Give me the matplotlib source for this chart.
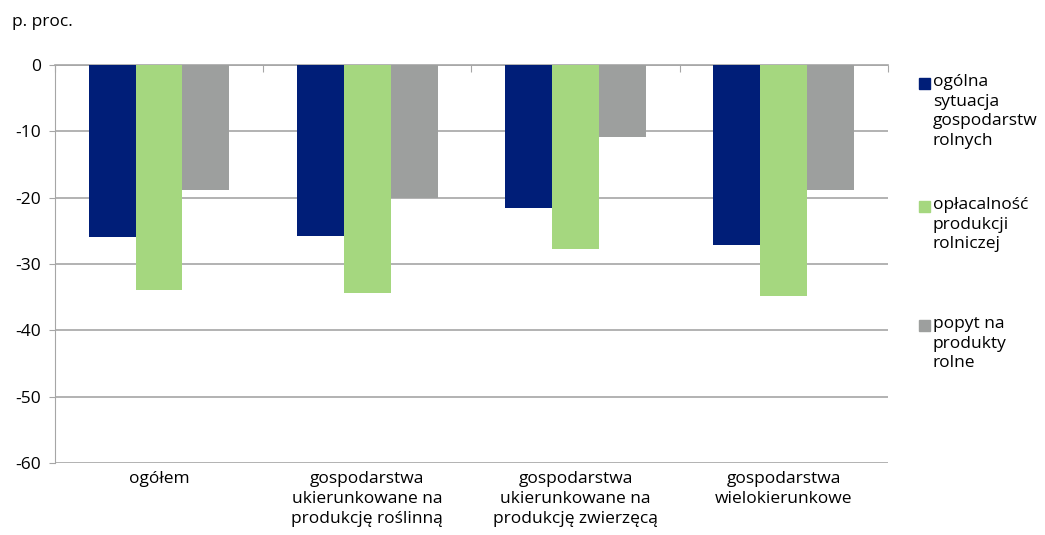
import matplotlib.pyplot as plt
import numpy as np
from matplotlib.patches import Rectangle

plt.rcParams['font.family'] = ['Open Sans', 'DejaVu Sans']
plt.rcParams['axes.unicode_minus'] = False

categories = ["ogółem",
              "gospodarstwa\nukierunkowane na\nprodukcję roślinną",
              "gospodarstwa\nukierunkowane na\nprodukcję zwierzęcą",
              "gospodarstwa\nwielokierunkowe"]
series_names = ["ogólna\nsytuacja\ngospodarstw\nrolnych",
                "opłacalność\nprodukcji\nrolniczej",
                "popyt na\nprodukty\nrolne"]
sytuacja = [-25.9, -25.8, -21.5, -27.1]
oplacalnosc = [-33.9, -34.4, -27.8, -34.9]
popyt = [-18.8, -20.0, -10.9, -18.9]
colors = ["#001E78", "#A5D77F", "#9D9F9E"]

fig = plt.figure(figsize=(10.45, 5.35), dpi=100)
ax = fig.add_axes([0.0526, 0.1346, 0.797, 0.7439])

x = np.arange(len(categories))
w = 0.225
for i, (vals, c) in enumerate(zip([sytuacja, oplacalnosc, popyt], colors)):
    ax.bar(x + (i - 1) * w, vals, width=w, color=c, zorder=3)

ax.set_xlim(-0.5, len(categories) - 0.5)
ax.set_ylim(-60, 0)
ax.set_yticks(range(0, -61, -10))
ax.set_yticklabels([str(v) for v in range(0, -61, -10)])
ax.yaxis.grid(True, color="#A6A6A6", linewidth=1.2, zorder=0)
for s in ["right", "bottom"]:
    ax.spines[s].set_visible(False)
ax.spines["left"].set_color("#A6A6A6")
ax.spines["top"].set_color("#A6A6A6")
ax.spines["top"].set_linewidth(1.2)
ax.tick_params(axis="y", length=4, color="#A6A6A6", labelsize=12.5, pad=6)
ax.set_xticks(x)
ax.set_xticklabels(categories, fontsize=12.5, linespacing=1.3, va="top")
ax.tick_params(axis="x", length=0, pad=6)

sec = ax.secondary_xaxis("top")
sec.set_xticks(np.arange(-0.5, len(categories), 1.0))
sec.tick_params(direction="in", length=5, color="#A6A6A6", labeltop=False)
sec.spines["top"].set_visible(False)

fig.text(12 / 1045, 1 - 22 / 535, "p. proc.", fontsize=12.5, va="center", ha="left")

# legend drawn by hand so the marker sits on the first line
leg_y = [83, 206, 325]
for name, c, yy in zip(series_names, colors, leg_y):
    fig.add_artist(Rectangle((919 / 1045, 1 - (yy + 6) / 535), 11 / 1045, 11 / 535,
                             transform=fig.transFigure, color=c))
    fig.text(933 / 1045, 1 - (yy - 9) / 535, name, fontsize=12.5, va="top", ha="left",
             linespacing=1.3)

fig.savefig("out.png", dpi=100)
